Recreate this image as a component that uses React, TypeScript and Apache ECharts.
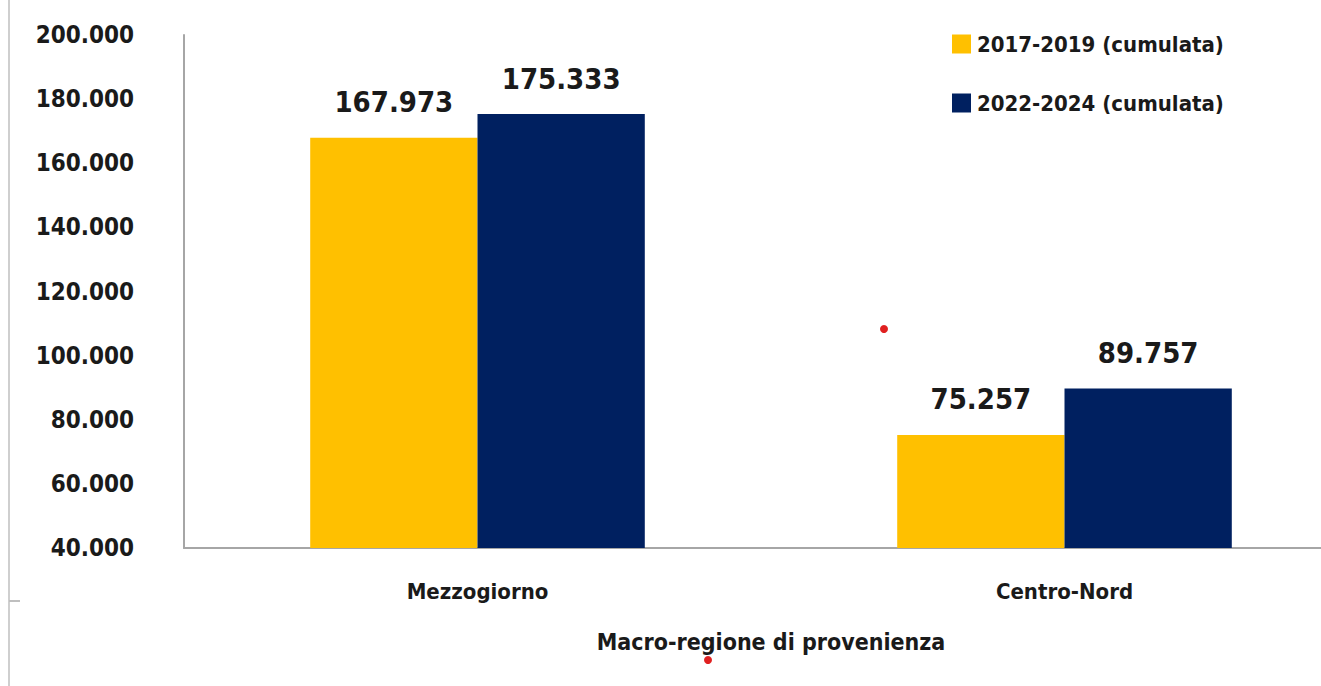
import React, { useEffect, useRef } from "react";
import * as echarts from "echarts";

const categories = ["Mezzogiorno", "Centro-Nord"];
const seriesNames = ["2017-2019 (cumulata)", "2022-2024 (cumulata)"];
const values2017 = [167973, 75257];
const values2022 = [175333, 89757];
const colors = ["#FFC000", "#002060"];
const xAxisTitle = "Macro-regione di provenienza";

const FONT = "'Liberation Sans Narrow', 'DejaVu Sans Condensed', 'Roboto Condensed', sans-serif";
const fmtDot = (v: number) => {
  const s = Math.round(v).toString();
  return s.replace(/\B(?=(\d{3})+(?!\d))/g, ".");
};

export default function App() {
  const ref = useRef<HTMLDivElement>(null);
  useEffect(() => {
    if (!ref.current) return;
    const chart = echarts.init(ref.current, undefined, { renderer: "svg" });
    const labelStyle = {
      show: true,
      position: "top" as const,
      distance: 21,
      fontFamily: FONT,
      fontWeight: "bold" as const,
      fontSize: 29,
      color: "#1a1a1a",
      formatter: (p: any) => fmtDot(p.value),
    };
    chart.setOption({
      animation: false,
      textStyle: { fontFamily: FONT },
      grid: { left: 184, top: 35, bottom: 138, width: 1174, outerBoundsMode: "none", containLabel: false },
      legend: {
        orient: "vertical",
        left: 947,
        top: 28,
        itemWidth: 19,
        itemHeight: 19,
        itemGap: 37,
        icon: "rect",
        textStyle: { fontFamily: FONT, fontWeight: "bold", fontSize: 22, color: "#1a1a1a", padding: [0, 0, 0, 1] },
      },
      xAxis: {
        type: "category",
        data: categories,
        axisLine: { lineStyle: { color: "#a6a6a6", width: 2 } },
        axisTick: { show: false },
        axisLabel: { fontFamily: FONT, fontWeight: "bold", fontSize: 22, color: "#1a1a1a", margin: 32 },
        name: xAxisTitle,
        nameLocation: "middle",
        nameGap: 82,
        nameTextStyle: { fontFamily: FONT, fontWeight: "bold", fontSize: 23, color: "#1a1a1a" },
      },
      yAxis: {
        type: "value",
        min: 40000,
        max: 200000,
        interval: 20000,
        axisLine: { show: true, lineStyle: { color: "#a6a6a6", width: 2 } },
        axisTick: { show: false },
        splitLine: { show: false },
        axisLabel: {
          fontFamily: FONT,
          fontWeight: "bold",
          fontSize: 24,
          color: "#1a1a1a",
          margin: 50,
          formatter: (v: number) => fmtDot(v),
        },
      },
      series: [
        {
          name: seriesNames[0],
          type: "bar",
          data: values2017,
          itemStyle: { color: colors[0] },
          barGap: "0%",
          barCategoryGap: "43%",
          label: labelStyle,
        },
        {
          name: seriesNames[1],
          type: "bar",
          data: values2022,
          itemStyle: { color: colors[1] },
          barGap: "0%",
          barCategoryGap: "43%",
          label: labelStyle,
        },
      ],
      graphic: [
        { type: "line", shape: { x1: 9, y1: 0, x2: 9, y2: 686 }, style: { stroke: "#bfbfbf", lineWidth: 1.5 } },
        { type: "line", shape: { x1: 9, y1: 601, x2: 20, y2: 601 }, style: { stroke: "#bfbfbf", lineWidth: 2 } },
        { type: "circle", shape: { cx: 884, cy: 329, r: 4 }, style: { fill: "#e02020" } },
        { type: "circle", shape: { cx: 708, cy: 660, r: 4 }, style: { fill: "#e02020" } },
      ],
    });
    return () => chart.dispose();
  }, []);
  return (
    <div
      ref={ref}
      style={{ position: "fixed", left: 0, top: 0, width: 1321, height: 686, background: "#fff" }}
    />
  );
}
